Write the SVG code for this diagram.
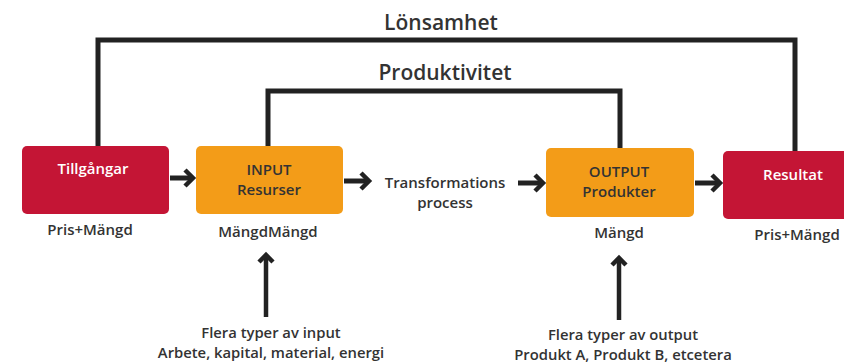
<svg xmlns="http://www.w3.org/2000/svg" width="844" height="363" viewBox="0 0 844 363">
<defs>
<style>
text{font-family:"Open Sans","Noto Sans","Liberation Sans",sans-serif;font-weight:600;fill:#333;text-anchor:middle}
.t{font-size:15px}
.w{fill:#fff}
.big{font-size:21px}
.small{font-size:14.8px}
.red{fill:#C41535}
.org{fill:#F39C18}
.ln{fill:none;stroke:#222;stroke-width:5}
.arr{fill:none;stroke:#222;stroke-width:5}
.head{fill:none;stroke:#222;stroke-width:4.5;stroke-linejoin:miter;stroke-miterlimit:10}
</style>
</defs>
<g id="connectors">
<polyline class="ln" points="98,148 98,40 795,40 795,151"/>
<polyline class="ln" points="268,146 268,91 620,91 620,148"/>
<line class="arr" x1="170" y1="178" x2="191" y2="178"/>
<polyline class="head" points="185,170 193,178 185,186"/>
<line class="arr" x1="344" y1="181" x2="367" y2="181"/>
<polyline class="head" points="361,173 369,181 361,189"/>
<line class="arr" x1="518" y1="183" x2="541" y2="183"/>
<polyline class="head" points="535,175 543,183 535,191"/>
<line class="arr" x1="695" y1="183" x2="718" y2="183"/>
<polyline class="head" points="712,175 720,183 712,191"/>
<line class="arr" x1="266" y1="317" x2="266" y2="256" style="stroke-width:4.5"/>
<polyline class="head" points="259,262 266,255 273,262"/>
<line class="arr" x1="619" y1="320" x2="619" y2="259" style="stroke-width:4.5"/>
<polyline class="head" points="612,265 619,258 626,265"/>
</g>
<g id="lonsamhet"><text class="big" x="441" y="30">Lönsamhet</text></g>
<g id="produktivitet"><text class="big" x="445" y="80">Produktivitet</text></g>
<g id="tillgangar">
<rect class="red" x="22" y="146" width="147" height="68" rx="5"/>
<text class="t w" x="93" y="174">Tillgångar</text>
<text class="t" x="90" y="235">Pris+Mängd</text>
</g>
<g id="input">
<rect class="org" x="196" y="146" width="147" height="68" rx="5"/>
<text class="t" x="269" y="175">INPUT</text>
<text class="t" x="269" y="195">Resurser</text>
<text class="t" x="268" y="237">MängdMängd</text>
</g>
<g id="transformation">
<text class="t" x="445" y="188">Transformations</text>
<text class="t" x="445" y="208">process</text>
</g>
<g id="output">
<rect class="org" x="546" y="148" width="148" height="69" rx="5"/>
<text class="t" x="619" y="177">OUTPUT</text>
<text class="t" x="619" y="197">Produkter</text>
<text class="t" x="619" y="238">Mängd</text>
</g>
<g id="resultat">
<rect class="red" x="723" y="151" width="130" height="68" rx="5"/>
<text class="t w" x="793" y="180">Resultat</text>
<text class="t" x="797" y="240">Pris+Mängd</text>
</g>
<g id="input-types">
<text class="small" x="271" y="338">Flera typer av input</text>
<text class="small" x="271" y="358">Arbete, kapital, material, energi</text>
</g>
<g id="output-types">
<text class="small" x="623" y="340">Flera typer av output</text>
<text class="small" x="623" y="360">Produkt A, Produkt B, etcetera</text>
</g>
</svg>
